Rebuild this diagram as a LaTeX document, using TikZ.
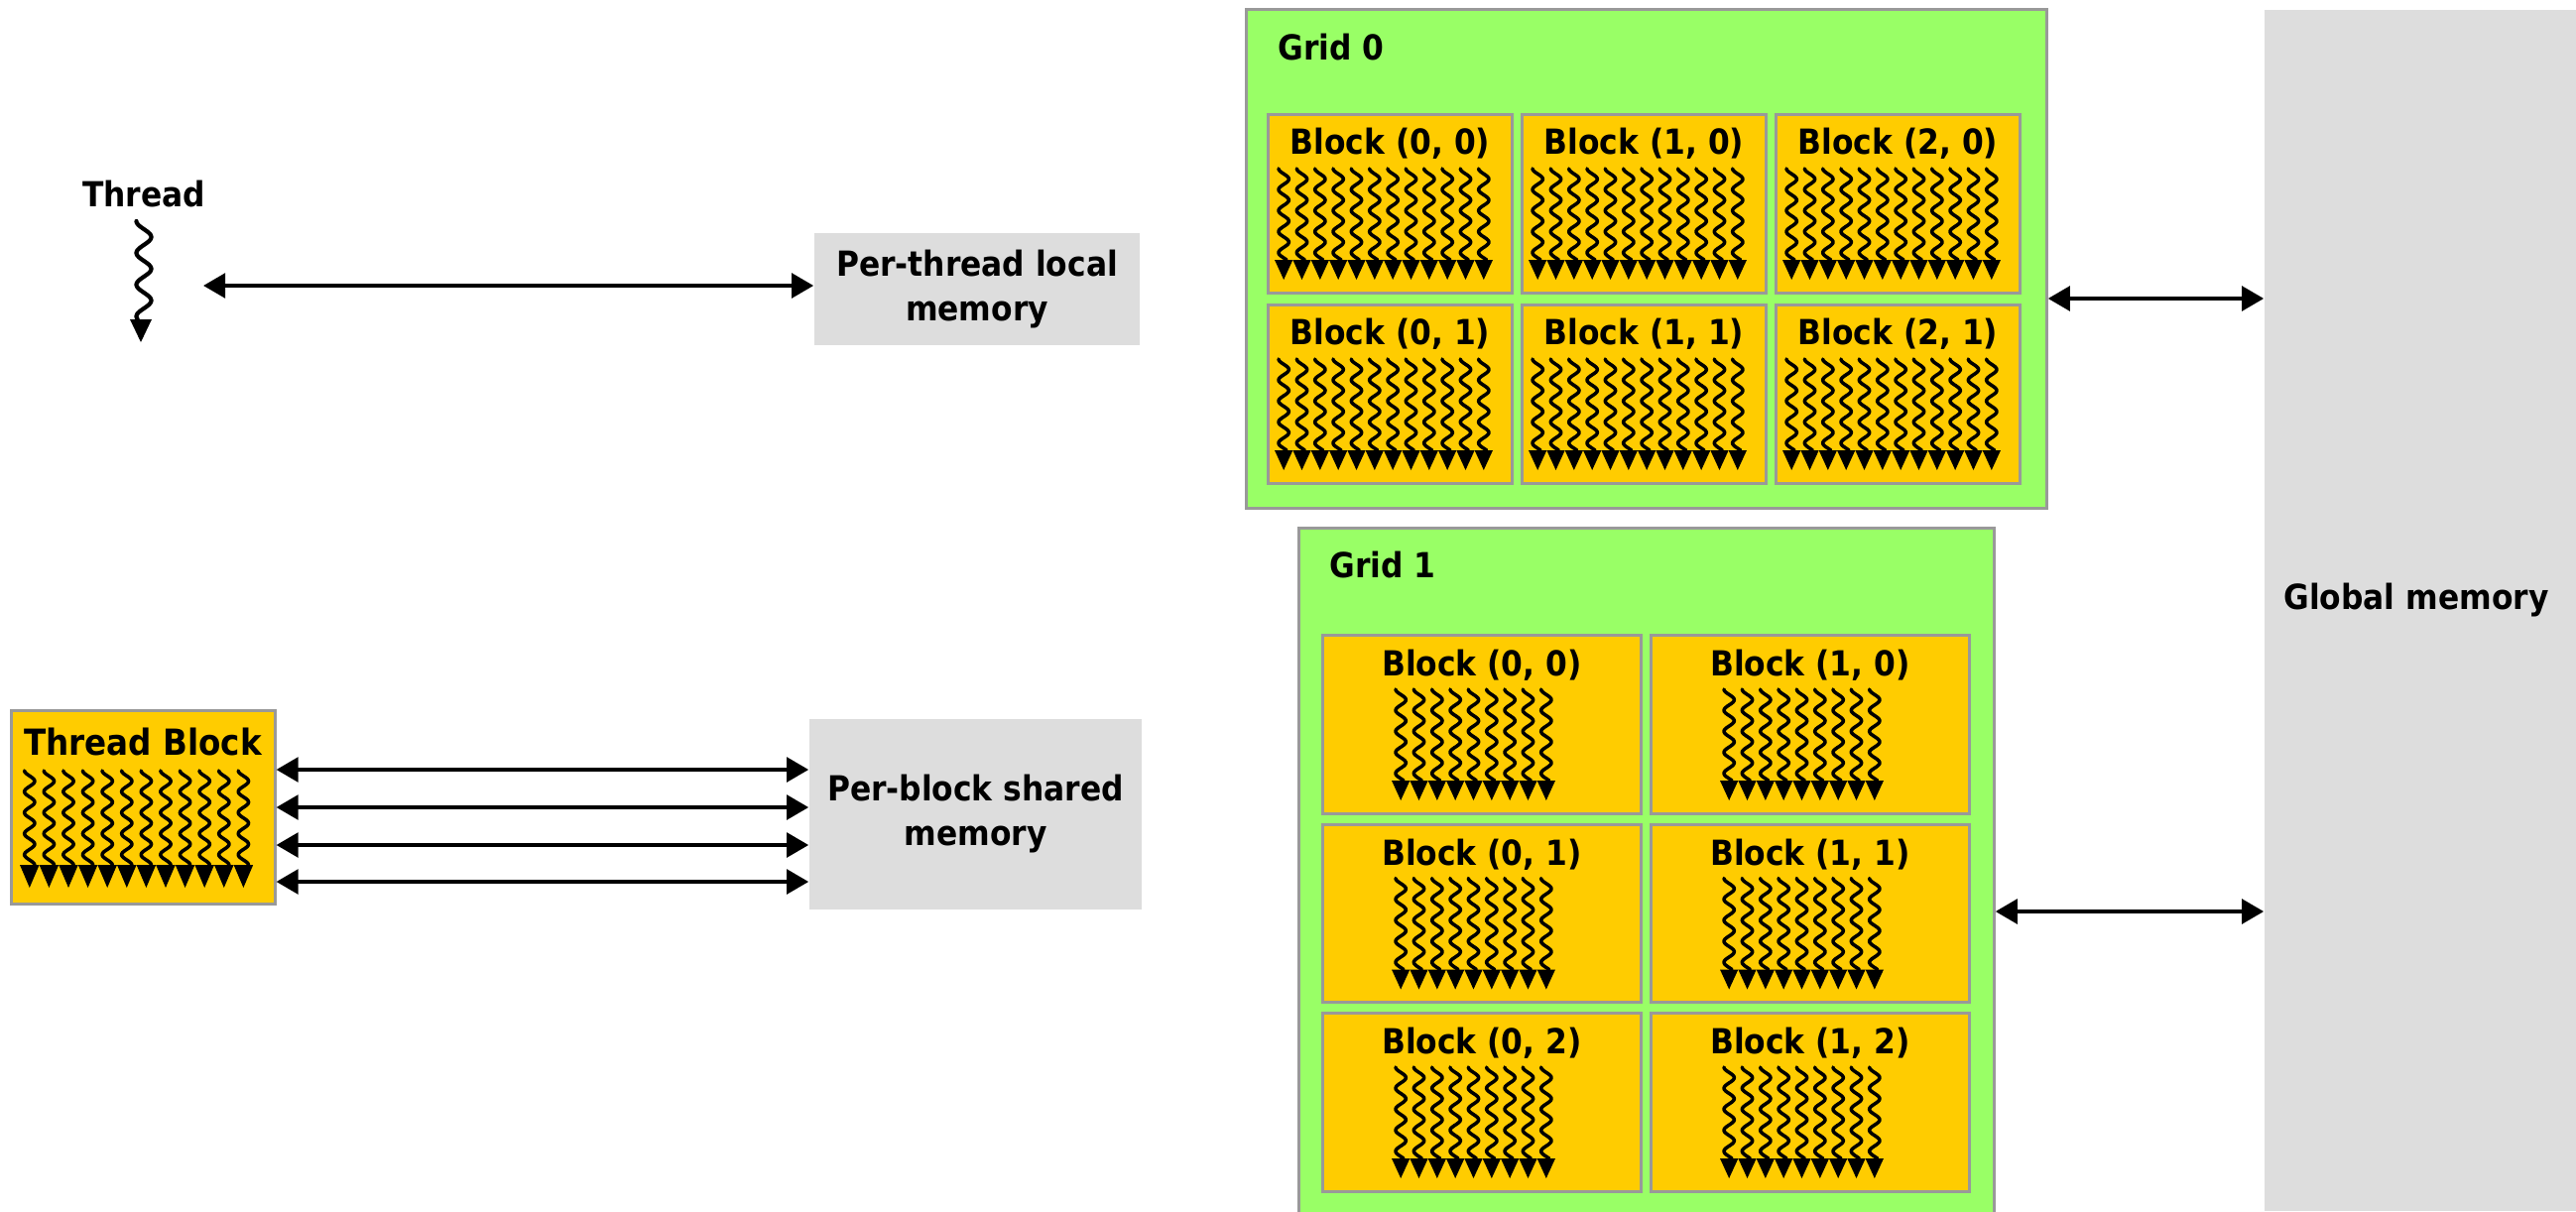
\documentclass[tikz,border=0pt]{standalone}
\usepackage{fontspec}
\setmainfont{DejaVu Sans Condensed}
\usetikzlibrary{arrows.meta}

\definecolor{gridgreen}{HTML}{99FF66}
\definecolor{blockyellow}{HTML}{FFCC00}
\definecolor{framegray}{HTML}{999999}
\definecolor{memgray}{HTML}{DDDDDD}

\tikzset{
  >={Triangle[length=6.3pt,width=7pt]},
  lbl/.style={font=\fontsize{9.9}{12.8}\selectfont\bfseries, inner sep=0pt, align=center},
  gridbox/.style={draw=framegray, line width=0.85pt, fill=gridgreen, inner sep=0pt},
  blockbox/.style={draw=framegray, line width=0.85pt, fill=blockyellow, inner sep=0pt,
                   minimum width=2.45cm, minimum height=1.79cm},
  membox/.style={lbl, fill=memgray},
  dbl/.style={<->, line width=1.15pt},
  squig/.style={line width=1.0pt, line join=round, line cap=round},
  % one wavy thread: #1 half width of its arrowhead, #2 length of the wave, #3 arrowhead height
  pics/wthread/.style n args={3}{code={
    \draw[squig] plot[domain=0:#2, samples=70, smooth] ({-5.2*cos(\x*17)}, \x);
    \fill (-#1,#2) -- (#1,#2) -- (0,#2+#3) -- cycle;
  }},
}

\begin{document}
\begin{tikzpicture}[x=0.01cm, y=-0.01cm]
\useasboundingbox (0,0) rectangle (2597,1221);

% ---------- global memory ----------
\node[fill=memgray, inner sep=0pt, minimum width=3.14cm, minimum height=12.11cm] (gmem) at (2440,615.5) {};
\node[lbl] (gmemt) at (2436,605) {Global memory};

% ---------- single thread ----------
\node[lbl] (thl) at (145,196) {Thread};
\draw[line width=1.2pt, line join=round, line cap=round]
  plot[domain=0:99, samples=80, smooth] ({145-7.5*cos(\x*11.25)}, {223+\x});
\fill (131,322) -- (153,322) -- (142,345) -- cycle;

\node[membox, minimum width=3.28cm, minimum height=1.13cm] (ptl) at (985,291.5) {Per-thread local\\memory};
\coordinate (tha) at (205,288);
\draw[dbl] (tha) -- (tha -| ptl.west);

% ---------- thread block ----------
\node[blockbox, minimum width=2.65cm, minimum height=1.94cm] (tb) at (144.5,814) {};
\node[lbl, font=\fontsize{10.3}{12.8}\selectfont\bfseries] (tbt) at (144,748) {Thread Block};
\foreach \k in {0,...,11}
  \pic at (29.8+\k*19.6, 777) {wthread={9.8}{95}{23}};

\node[membox, minimum width=3.35cm, minimum height=1.92cm] (pbs) at (983.5,821) {Per-block shared\\memory};
\foreach \yy in {776,814,852,889}
  \draw[dbl] (tb.east |- 0,\yy) -- (pbs.west |- 0,\yy);

% ---------- grid 0 ----------
\node[gridbox, minimum width=8.06cm, minimum height=5.02cm] (grid0) at (1660,261) {};
\node[lbl, anchor=west] (grid0t) at (1288,48) {Grid 0};
\foreach \i in {0,1,2}
  \foreach \j in {0,1} {
    \node[blockbox] (gzb\i\j) at (1279+\i*256+122.5, 116+\j*192+89.5) {};
    \node[lbl] (gzt\i\j) at (1279+\i*256+122.5, 116+\j*192+29) {Block (\i, \j)};
    \foreach \k in {0,...,11}
      \pic at (1279+\i*256+15.17+\k*18.33, 116+\j*192+54) {wthread={9.17}{92}{20}};
  }

% ---------- grid 1 ----------
\node[gridbox, minimum width=7.00cm, minimum height=7.02cm] (grid1) at (1660,884) {};
\node[lbl, anchor=west] (grid1t) at (1340,570) {Grid 1};
\foreach \i in {0,1}
  \foreach \j in {0,1,2} {
    \node[blockbox, minimum width=3.20cm] (gob\i\j) at (1334+\i*331+160, 641+\j*190.5+89.5) {};
    \node[lbl] (got\i\j) at (1334+\i*331+160, 641+\j*190.5+30) {Block (\i, \j)};
    \foreach \k in {0,...,8}
      \pic at (1334+\i*331+78.17+\k*18.33, 641+\j*190.5+54) {wthread={9.17}{92}{20}};
  }

% ---------- links to global memory ----------
\draw[dbl] (grid0.east |- 0,301) -- (gmem.west |- 0,301);
\draw[dbl] (grid1.east |- 0,919) -- (gmem.west |- 0,919);
\end{tikzpicture}
\end{document}
